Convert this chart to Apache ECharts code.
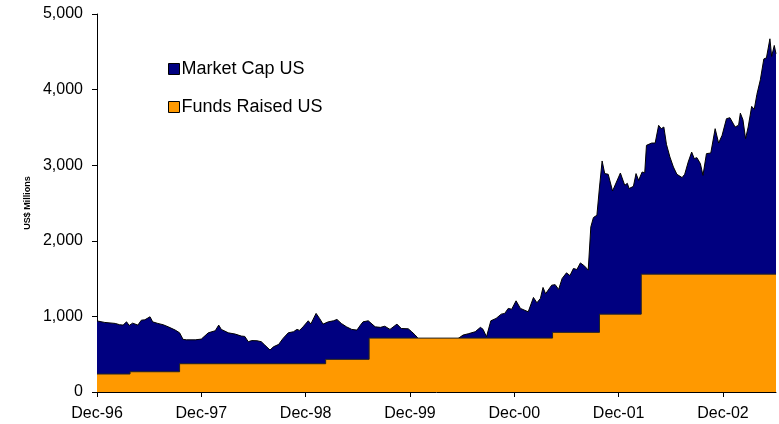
<!DOCTYPE html>
<html>
<head>
<meta charset="utf-8">
<script src="https://cdn.jsdelivr.net/npm/echarts@6.0.0/dist/echarts.min.js"></script>
<style>
  html, body { margin: 0; padding: 0; background: #fff; }
  #chart { width: 779px; height: 424px; }
</style>
</head>
<body>
<div id="chart"></div>
<script>
// months after Dec-96 on the x axis
const tickYears = ['96', '97', '98', '99', '00', '01', '02'];

// Market Cap US, US$ millions
const capMonths = [
  0.0, 0.9, 2.1, 2.6, 3.0, 3.4, 3.7, 4.1, 4.7, 5.1, 5.5, 6.1, 6.4, 7.0, 7.6, 8.2, 9.0, 9.5, 9.9, 10.3,
  11.3, 12.0, 12.8, 13.6, 14.0, 14.3, 15.1, 15.9, 16.6, 17.0, 17.4, 17.8, 18.4, 18.9, 19.3, 19.9, 20.3, 20.9, 21.4, 22.0,
  22.6, 23.0, 23.3, 23.7, 24.3, 24.6, 25.2, 25.6, 26.0, 26.6, 27.2, 27.6, 28.1, 28.7, 29.3, 29.9, 30.3, 30.6, 31.2, 31.4,
  32.0, 32.6, 33.1, 33.7, 34.5, 35.0, 35.8, 36.2, 36.6, 37.0, 37.7, 39.5, 41.2, 42.1, 42.7, 43.5, 44.1, 44.4, 44.8, 45.3,
  45.9, 46.5, 46.9, 47.3, 47.7, 48.2, 48.7, 49.6, 50.2, 50.6, 51.0, 51.3, 51.6, 52.3, 52.7, 53.1, 53.5, 54.0, 54.4, 54.8,
  55.2, 55.6, 56.1, 56.5, 56.8, 57.1, 57.5, 57.8, 58.1, 58.4, 58.8, 59.0, 59.3, 59.8, 60.2, 60.7, 61.0, 61.2, 61.7, 62.0,
  62.3, 62.7, 63.0, 63.2, 63.8, 64.2, 64.6, 64.9, 65.2, 65.5, 65.9, 66.3, 66.7, 67.3, 67.6, 68.0, 68.4, 68.7, 69.0, 69.4,
  69.7, 70.1, 70.6, 71.1, 71.5, 71.9, 72.4, 72.8, 73.4, 73.8, 74.0, 74.3, 74.6, 74.9, 75.3, 75.6, 75.9, 76.3, 76.7, 77.0,
  77.4, 77.6, 77.9, 78.1
];
const capValues = [
  940, 920, 907, 890, 885, 928, 880, 911, 885, 950, 955, 995, 928, 907, 890, 862, 819, 783, 696, 690,
  690, 700, 783, 810, 885, 828, 783, 766, 740, 735, 665, 680, 678, 665, 621, 555, 598, 630, 709, 783,
  797, 828, 815, 862, 942, 900, 1040, 973, 898, 928, 942, 960, 907, 862, 828, 819, 885, 928, 942, 928,
  862, 855, 870, 828, 898, 840, 836, 797, 753, 700, 660, 650, 680, 753, 770, 797, 855, 830, 731, 942,
  973, 1030, 1040, 1106, 1095, 1206, 1106, 1061, 1251, 1180, 1238, 1383, 1300, 1413, 1420, 1357, 1502, 1576, 1540, 1634,
  1620, 1708, 1664, 1612, 2184, 2308, 2338, 2712, 3056, 2889, 2880, 2791, 2659, 2791, 2897, 2734, 2760, 2691, 2720, 2889,
  2800, 2910, 2900, 3263, 3293, 3293, 3527, 3483, 3505, 3276, 3108, 2976, 2880, 2836, 2880, 3042, 3174, 3087, 3100, 3021,
  2866, 3153, 3161, 3483, 3293, 3395, 3615, 3628, 3505, 3530, 3689, 3600, 3351, 3505, 3778, 3740, 3936, 4130, 4406, 4420,
  4672, 4438, 4584, 4474
];

// Funds Raised US, US$ millions (stepped)
const fundMonths = [0, 3.8, 9.5, 26.3, 31.3, 52.4, 57.8, 62.6, 78.1];
const fundValues = [238, 268, 374, 432, 713, 789, 1030, 1559, 1559];

const FONT = '"Liberation Sans", Arial, sans-serif';

const chart = echarts.init(document.getElementById('chart'));

const option = {
    animation: false,
    grid: { left: 97, right: 3, top: 14, bottom: 32 },
    legend: {
        orient: 'vertical',
        left: 163,
        top: 55,
        icon: 'rect',
        itemWidth: 11,
        itemHeight: 11,
        itemGap: 20,
        textStyle: { fontFamily: FONT, fontSize: 18, color: '#000', padding: [0, 0, 0, -3] },
        data: [
            { name: 'Market Cap US', itemStyle: { color: '#000080', borderColor: '#000', borderWidth: 1 } },
            { name: 'Funds Raised US', itemStyle: { color: '#FF9900', borderColor: '#000', borderWidth: 1 } }
        ]
    },
    xAxis: {
        type: 'value',
        min: 0,
        max: 78.1,
        interval: 12,
        splitLine: { show: false },
        axisLine: { lineStyle: { color: '#000', width: 1 } },
        axisTick: { length: 5, lineStyle: { color: '#000' }, customValues: [0, 12, 24, 36, 48, 60, 72] },
        axisLabel: {
            customValues: [0, 12, 24, 36, 48, 60, 72],
            margin: 14,
            fontFamily: FONT,
            fontSize: 16,
            color: '#000',
            formatter: (v) => {
                const i = Math.round(v / 12);
                return (v % 12 === 0 && tickYears[i]) ? 'Dec-' + tickYears[i] : '';
            }
        }
    },
    yAxis: {
        type: 'value',
        min: 0,
        max: 5000,
        interval: 1000,
        name: 'US$ Millions',
        nameLocation: 'middle',
        nameGap: 64,
        nameTextStyle: { fontFamily: FONT, fontSize: 9, fontWeight: 'bold', color: '#000' },
        splitLine: { show: false },
        axisLine: { show: true, lineStyle: { color: '#000', width: 1 } },
        axisTick: { show: true, length: 5, lineStyle: { color: '#000' } },
        axisLabel: {
            margin: 14,
            fontFamily: FONT,
            fontSize: 16,
            color: '#000',
            formatter: (v) => v.toLocaleString('en-US')
        }
    },
    series: [
        {
            name: 'Market Cap US',
            type: 'line',
            data: capMonths.map((m, i) => [m, capValues[i]]),
            showSymbol: false,
            lineStyle: { color: '#000', width: 1 },
            itemStyle: { color: '#000080' },
            areaStyle: { color: '#000080', opacity: 1 },
            z: 2
        },
        {
            name: 'Funds Raised US',
            type: 'line',
            step: 'end',
            data: fundMonths.map((m, i) => [m, fundValues[i]]),
            showSymbol: false,
            lineStyle: { color: '#222', width: 1 },
            itemStyle: { color: '#FF9900' },
            areaStyle: { color: '#FF9900', opacity: 1 },
            z: 3
        }
    ]
};

chart.setOption(option);
</script>
</body>
</html>
